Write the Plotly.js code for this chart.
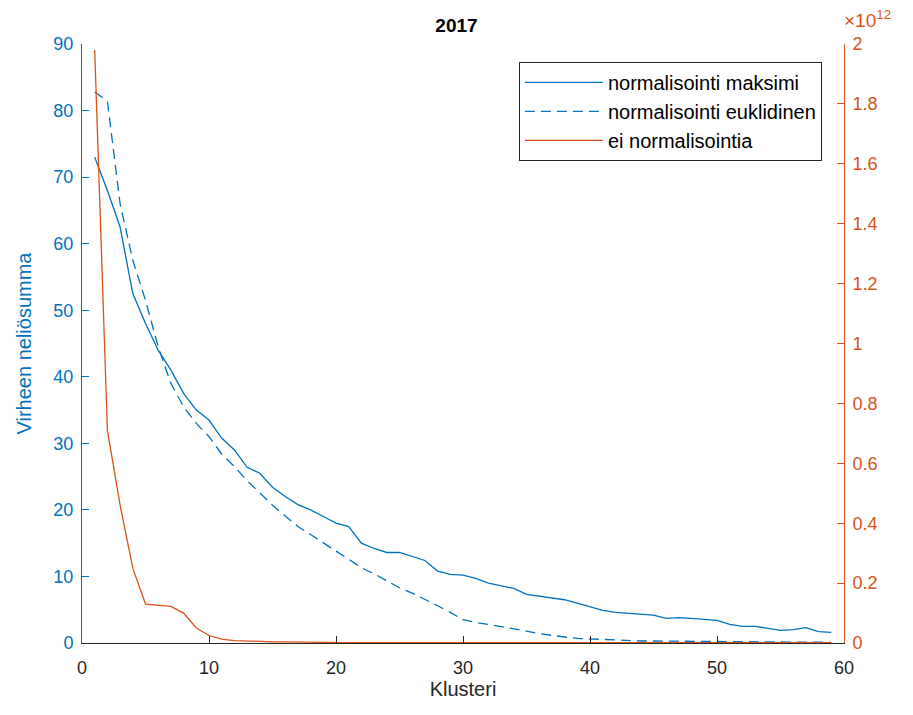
<!DOCTYPE html>
<html>
<head>
<meta charset="utf-8">
<script src="https://cdn.plot.ly/plotly-3.0.1.min.js"></script>
<style>html,body{margin:0;padding:0;background:#fff;}#chart{width:913px;height:715px;}</style>
</head>
<body>
<div id="chart"></div>
<script>
const clusters = Array.from({length: 59}, (_, i) => i + 1);

const maksimi = [73, 68, 62.5, 52.5, 48, 44, 41, 37.5, 35, 33.5,
  30.8, 29, 26.4, 25.5, 23.4, 22, 20.8, 20, 19, 18,
  17.5, 15, 14.2, 13.6, 13.6, 13, 12.4, 10.8, 10.3, 10.2,
  9.7, 9, 8.6, 8.2, 7.3, 7, 6.8, 6.5, 6, 5.4,
  4.9, 4.6, 4.5, 4.4, 4.2, 3.7, 3.8, 3.7, 3.5, 3.4,
  2.8, 2.5, 2.5, 2.2, 1.9, 2.0, 2.3, 1.7, 1.6];

const euklidinen = [82.8, 81.4, 66, 57.5, 51.5, 44.5, 39, 35.5, 33, 31,
  28.4, 26.5, 24.4, 22.5, 20.7, 19.1, 17.5, 16.3, 15, 13.8,
  12.6, 11.3, 10.4, 9.3, 8.3, 7.5, 6.6, 5.6, 4.6, 3.5,
  3.1, 2.8, 2.5, 2.2, 1.8, 1.4, 1.1, 0.9, 0.7, 0.6,
  0.5, 0.4, 0.35, 0.3, 0.3, 0.28, 0.26, 0.24, 0.22, 0.2,
  0.19, 0.18, 0.17, 0.16, 0.15, 0.14, 0.13, 0.12, 0.1];

const eiNormalisointia = [1.98e12, 0.71e12, 0.46e12, 0.25e12, 0.13e12, 0.125e12, 0.122e12, 0.10e12, 0.05e12, 0.025e12,
  0.013e12, 0.008e12, 0.006e12, 0.005e12, 0.004e12, 0.004e12, 0.003e12, 0.002e12, 0.002e12, 0.001e12,
  0.001e12, 0.001e12, 0.001e12, 0.001e12, 0.001e12, 0.001e12, 0.001e12, 0.001e12, 0.001e12, 0.001e12,
  0.001e12, 0.001e12, 0.001e12, 0.001e12, 0.001e12, 0.001e12, 0.001e12, 0.001e12, 0.001e12, 0.001e12,
  0.001e12, 0.001e12, 0.001e12, 0.001e12, 0.001e12, 0.001e12, 0.001e12, 0.001e12, 0.001e12, 0.001e12,
  0.001e12, 0.001e12, 0.001e12, 0.001e12, 0.001e12, 0.001e12, 0.001e12, 0.001e12, 0.001e12];

const leftTicks = [0, 10, 20, 30, 40, 50, 60, 70, 80, 90];
const rightTickVals = [0, 0.2e12, 0.4e12, 0.6e12, 0.8e12, 1.0e12, 1.2e12, 1.4e12, 1.6e12, 1.8e12, 2.0e12];
const rightTickText = ['0', '0.2', '0.4', '0.6', '0.8', '1', '1.2', '1.4', '1.6', '1.8', '2'];
const xTicks = [0, 10, 20, 30, 40, 50, 60];

const BLUE = '#0072BD';
const ORANGE = '#D95319';
const FONT = 'Liberation Sans, Arial, sans-serif';

const traces = [
  {x: clusters, y: maksimi, name: 'normalisointi maksimi', type: 'scatter', mode: 'lines',
   line: {color: BLUE, width: 1.3}, yaxis: 'y'},
  {x: clusters, y: euklidinen, name: 'normalisointi euklidinen', type: 'scatter', mode: 'lines',
   line: {color: BLUE, width: 1.3, dash: '10px,6px'}, yaxis: 'y'},
  {x: clusters, y: eiNormalisointia, name: 'ei normalisointia', type: 'scatter', mode: 'lines',
   line: {color: ORANGE, width: 1.3}, yaxis: 'y2'}
];

const layout = {
  width: 913, height: 715,
  margin: {l: 82, r: 69, t: 44, b: 72},
  paper_bgcolor: '#fff', plot_bgcolor: '#fff',
  font: {family: FONT, size: 18, color: '#262626'},
  showlegend: true,
  title: {text: '<b>2017</b>', font: {family: FONT, size: 19, color: '#000'}, x: 0.5, xanchor: 'center', y: 0.965, yanchor: 'middle'},
  xaxis: {
    range: [0, 60], tickvals: xTicks, ticks: 'inside', ticklen: 7, tickcolor: '#262626',
    showline: true, linecolor: '#262626', linewidth: 1, showgrid: false, zeroline: false,
    tickfont: {size: 18, color: '#262626'}, ticklabelstandoff: 8,
    title: {text: 'Klusteri', font: {size: 20, color: '#262626'}, standoff: 4}
  },
  yaxis: {
    range: [0, 90], tickvals: leftTicks, ticks: 'inside', ticklen: 7, tickcolor: BLUE,
    showline: true, linecolor: BLUE, linewidth: 1, showgrid: false, zeroline: false,
    tickfont: {size: 18, color: BLUE}, ticklabelstandoff: 4,
    title: {text: 'Virheen neliösumma', font: {size: 20, color: BLUE}, standoff: 16}
  },
  yaxis2: {
    range: [0, 2e12], tickvals: rightTickVals, ticktext: rightTickText, overlaying: 'y', side: 'right',
    ticks: 'inside', ticklen: 7, tickcolor: ORANGE,
    showline: true, linecolor: ORANGE, linewidth: 1, showgrid: false, zeroline: false,
    tickfont: {size: 18, color: ORANGE}, ticklabelstandoff: 4
  },
  legend: {
    x: 0.971, xanchor: 'right', y: 0.97, yanchor: 'top',
    bgcolor: '#fff', bordercolor: '#262626', borderwidth: 1,
    font: {size: 20, color: '#000'}, tracegroupgap: 0, itemwidth: 78
  },
  annotations: [{
    xref: 'paper', yref: 'paper', x: 1.0, y: 1.0, xanchor: 'left', yanchor: 'bottom', yshift: 11, xshift: -2,
    text: '×10<sup>12</sup>', showarrow: false, font: {size: 19, color: ORANGE}
  }]
};

Plotly.newPlot('chart', traces, layout, {displayModeBar: false, staticPlot: true});
</script>
</body>
</html>
